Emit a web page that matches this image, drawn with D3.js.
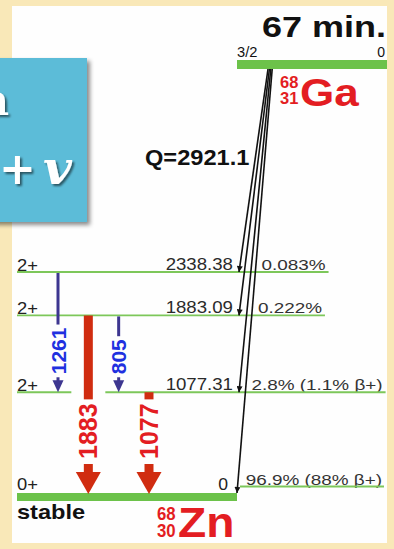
<!DOCTYPE html>
<html>
<head>
<meta charset="utf-8">
<script src="https://cdn.jsdelivr.net/npm/d3@7"></script>
<style>
  html, body { margin: 0; padding: 0; background: #f9e8b8; }
  svg { display: block; }
</style>
</head>
<body>
<script>
// Decay scheme of 68Ga (67 min) to stable 68Zn

// Parent nucleus
const parentText = ["67 min.", "3/2", "0", "Q=2921.1"];
const parentNuclide = ["68", "31", "Ga"];
const daughterNuclide = ["68", "30", "Zn"];

// Daughter levels (keV), spins and beta-feeding branches
const levelEnergy = [0, 1077.31, 1883.09, 2338.38];
const levelSpin = ["0+", "2+", "2+", "2+"];
const levelText = ["0", "1077.31", "1883.09", "2338.38"];
const branchText = ["96.9% (88% β+)", "2.8% (1.1% β+)", "0.222%", "0.083%"];

// Gamma transitions, ordered left to right
const gammaEnergy = [1261, 1883, 805, 1077];
const gammaFrom = [2338.38, 1883.09, 1883.09, 1077.31];
const gammaTo = [1077.31, 0, 1077.31, 0];
const gammaStrong = [false, true, false, true];

const W = 394, H = 549;
const SANS = "'Liberation Sans', Arial, Helvetica, sans-serif";
const SERIF = "'DejaVu Serif', 'Liberation Serif', serif";
const GREEN = "#6cc24a";
const LINE_GREEN = "#7dc75a";
const RED = "#e31d22";
const BAR_RED = "#d02c10";
const PURPLE = "#3d3690";
const BLUE = "#2030e0";

const svg = d3.select("body").append("svg")
  .attr("width", W).attr("height", H)
  .attr("viewBox", `0 0 ${W} ${H}`);

const defs = svg.append("defs");
defs.append("filter").attr("id", "boxShadow")
  .attr("x", "-20%").attr("y", "-20%").attr("width", "150%").attr("height", "150%")
  .append("feDropShadow")
  .attr("dx", 3).attr("dy", 3).attr("stdDeviation", 2)
  .attr("flood-color", "#000").attr("flood-opacity", 0.45);
defs.append("filter").attr("id", "textShadow")
  .attr("x", "-30%").attr("y", "-30%").attr("width", "160%").attr("height", "160%")
  .append("feDropShadow")
  .attr("dx", 2).attr("dy", 2).attr("stdDeviation", 1.3)
  .attr("flood-color", "#000").attr("flood-opacity", 0.55);
defs.append("marker").attr("id", "tip")
  .attr("viewBox", "0 0 10 10").attr("refX", 10).attr("refY", 5)
  .attr("markerUnits", "userSpaceOnUse")
  .attr("markerWidth", 7).attr("markerHeight", 6)
  .attr("orient", "auto")
  .append("path").attr("d", "M0,0 L10,5 L0,10 Z").attr("fill", "#111");

function txt(parent, s, x, yy, o = {}) {
  const t = parent.append("text")
    .attr("transform", `translate(${x},${yy}) scale(${o.sx || 1},${o.sy || 1})`)
    .attr("text-anchor", o.anchor || "start")
    .attr("font-family", o.family || SANS)
    .attr("font-size", o.size || 16)
    .attr("font-weight", o.weight || "normal")
    .attr("fill", o.fill || "#222")
    .text(s);
  if (o.italic) t.attr("font-style", "italic");
  return t;
}

// Page background and white panel
svg.append("rect").attr("width", W).attr("height", H).attr("fill", "#f9e8b8");
svg.append("rect").attr("x", 12).attr("y", 6).attr("width", 375).attr("height", 537).attr("fill", "#fefefe");

// Blue formula card on the left
const card = svg.append("g");
card.append("rect").attr("x", -8).attr("y", 58).attr("width", 95).attr("height", 164)
  .attr("fill", "#5bbcd8").attr("filter", "url(#boxShadow)");
const cardText = card.append("g").attr("filter", "url(#textShadow)");
txt(cardText, "n", 9, 115, { anchor: "end", family: SERIF, size: 42, weight: "bold", fill: "#fff" });
txt(cardText, "+", -1, 184, { family: SERIF, size: 44, weight: "bold", fill: "#fff" });
txt(cardText, "v", 43, 184, { family: SERIF, size: 46, weight: "bold", fill: "#fff", italic: true, sx: 1.08 });

// Energy scale for the daughter levels
const y = d3.scaleLinear().domain([0, 2338.38]).range([495, 272]);
// Horizontal slots for the gamma transitions
const gx = d3.scalePoint().domain(gammaEnergy.map(String)).range([58, 149]);

const levelLeft = 17;
const levelRight = 237;

// Parent level
const parentY = 60;
svg.append("rect").attr("x", 237).attr("y", parentY).attr("width", 150).attr("height", 9).attr("fill", GREEN);
txt(svg, parentText[0], 386, 37, { anchor: "end", size: 30, weight: "bold", fill: "#111", sx: 1.2 });
txt(svg, parentText[1], 237, 57, { size: 14, fill: "#111", sx: 1.05 });
txt(svg, parentText[2], 385, 57, { anchor: "end", size: 14, fill: "#111" });
txt(svg, parentText[3], 145, 165, { size: 22.5, weight: "bold", fill: "#111", sx: 1.05 });
// mass and atomic numbers stacked before the symbol
txt(svg, parentNuclide[0], 280, 88, { size: 15, weight: "bold", fill: RED, sx: 1.1, sy: 1.12 });
txt(svg, parentNuclide[1], 280, 104, { size: 15, weight: "bold", fill: RED, sx: 1.1, sy: 1.12 });
txt(svg, parentNuclide[2], 300, 106, { size: 39, weight: "bold", fill: RED, sx: 1.13 });

// Beta-decay lines from the parent level to each daughter level
const order = levelEnergy.map((e, i) => i).sort((a, b) => levelEnergy[b] - levelEnergy[a]);
const decay = order.map((i, k) => {
  const ground = levelEnergy[i] === 0;
  return {
    i,
    x1: 268 + k * 1.4,
    y1: parentY + 9,
    x2: ground ? 237 : 239,
    y2: ground ? y(0) - 2 : y(levelEnergy[i])
  };
});
const outer = decay[decay.length - 1];
const outerX = yy => outer.x1 + (outer.x2 - outer.x1) * (yy - outer.y1) / (outer.y2 - outer.y1);

// Daughter levels
const BRANCH_SX = 1.22;
const levels = svg.append("g");
levelEnergy.forEach((e, i) => {
  const ly = y(e);
  const ground = e === 0;
  if (ground) {
    levels.append("rect").attr("x", levelLeft).attr("y", ly - 2)
      .attr("width", levelRight - levelLeft).attr("height", 8).attr("fill", GREEN);
    txt(levels, levelSpin[i], levelLeft, ly - 5, { size: 17, fill: "#222", sx: 1.08 });
    txt(levels, levelText[i], 228, ly - 5, { anchor: "end", size: 16, fill: "#222", sx: 1.1 });
    const by = ly - 10;
    const bx = outerX(by) + 8;
    const t = txt(levels, branchText[i], bx, by, { size: 15.5, fill: "#333", sx: BRANCH_SX });
    const end = bx + t.node().getComputedTextLength() * BRANCH_SX + 2;
    levels.append("line").attr("x1", 240).attr("x2", end).attr("y1", by + 1.5).attr("y2", by + 1.5)
      .attr("stroke", LINE_GREEN).attr("stroke-width", 1.8);
    return;
  }
  const by = ly - 2;
  const bx = outerX(by) + 6;
  const t = txt(levels, branchText[i], bx, by, { size: 15.5, fill: "#333", sx: BRANCH_SX });
  const end = bx + t.node().getComputedTextLength() * BRANCH_SX + 3;
  // gaps where strong transitions pass through this level
  const gaps = gammaEnergy
    .map((g, j) => ({ g, j }))
    .filter(d => gammaStrong[d.j] && gammaFrom[d.j] > e && gammaTo[d.j] < e)
    .map(d => [gx(String(d.g)) - 17, gx(String(d.g)) + 17])
    .sort((a, b) => a[0] - b[0]);
  let start = levelLeft;
  const segs = [];
  gaps.forEach(([a, b]) => { segs.push([start, a]); start = b; });
  segs.push([start, end]);
  segs.forEach(([a, b]) => {
    levels.append("line").attr("x1", a).attr("x2", b).attr("y1", ly).attr("y2", ly)
      .attr("stroke", LINE_GREEN).attr("stroke-width", 1.8);
  });
  txt(levels, levelSpin[i], levelLeft, ly - 1, { size: 17, fill: "#222", sx: 1.08 });
  txt(levels, levelText[i], 233, by, { anchor: "end", size: 16.5, fill: "#2a2a2a", sx: 1.13 });
});

svg.append("g").selectAll("line").data(decay).join("line")
  .attr("x1", d => d.x1).attr("y1", d => d.y1)
  .attr("x2", d => d.x2).attr("y2", d => d.y2)
  .attr("stroke", "#111").attr("stroke-width", 1.6)
  .attr("marker-end", "url(#tip)");

// Gamma transitions
const gam = svg.append("g");
gammaEnergy.forEach((g, j) => {
  const x = gx(String(g));
  const y1 = y(gammaFrom[j]);
  const y2 = gammaTo[j] === 0 ? y(0) - 1 : y(gammaTo[j]);
  const strong = gammaStrong[j];
  const headLen = strong ? 22 : 12;
  const headW = strong ? 25 : 11;
  const width = strong ? 9 : 3;
  const color = strong ? BAR_RED : PURPLE;
  gam.append("line").attr("x1", x).attr("x2", x).attr("y1", y1 + (strong ? 0 : 1)).attr("y2", y2 - headLen + 1)
    .attr("stroke", color).attr("stroke-width", width);
  gam.append("path")
    .attr("d", `M${x - headW / 2},${y2 - headLen} L${x + headW / 2},${y2 - headLen} L${x},${y2} Z`)
    .attr("fill", color);
  const size = strong ? 25 : 21;
  const anchorY = y2 - headLen - (strong ? 13 : 6);
  const lab = gam.append("text")
    .attr("transform", `translate(${x + size * 0.36},${anchorY}) rotate(-90)`)
    .attr("font-family", SANS).attr("font-size", size).attr("font-weight", "bold")
    .attr("fill", strong ? RED : BLUE)
    .text(g);
  const len = lab.node().getComputedTextLength();
  const top = anchorY - len;
  const half = strong ? 13 : 9;
  const rTop = Math.max(top - (strong ? 4 : 3), y1 + 3);
  const rBot = anchorY + (strong ? 5 : 3);
  gam.insert("rect", () => lab.node())
    .attr("x", x - half).attr("y", rTop).attr("width", half * 2).attr("height", rBot - rTop)
    .attr("fill", "#fefefe");
});

// Daughter nuclide
txt(svg, "stable", 17, 519, { size: 20, weight: "bold", fill: "#111", sx: 1.18 });
txt(svg, daughterNuclide[0], 157, 520, { size: 16, weight: "bold", fill: RED, sx: 1.05, sy: 1.12 });
txt(svg, daughterNuclide[1], 157, 537, { size: 16, weight: "bold", fill: RED, sx: 1.05, sy: 1.12 });
txt(svg, daughterNuclide[2], 178, 537, { size: 42, weight: "bold", fill: RED, sx: 1.1 });
</script>
</body>
</html>
